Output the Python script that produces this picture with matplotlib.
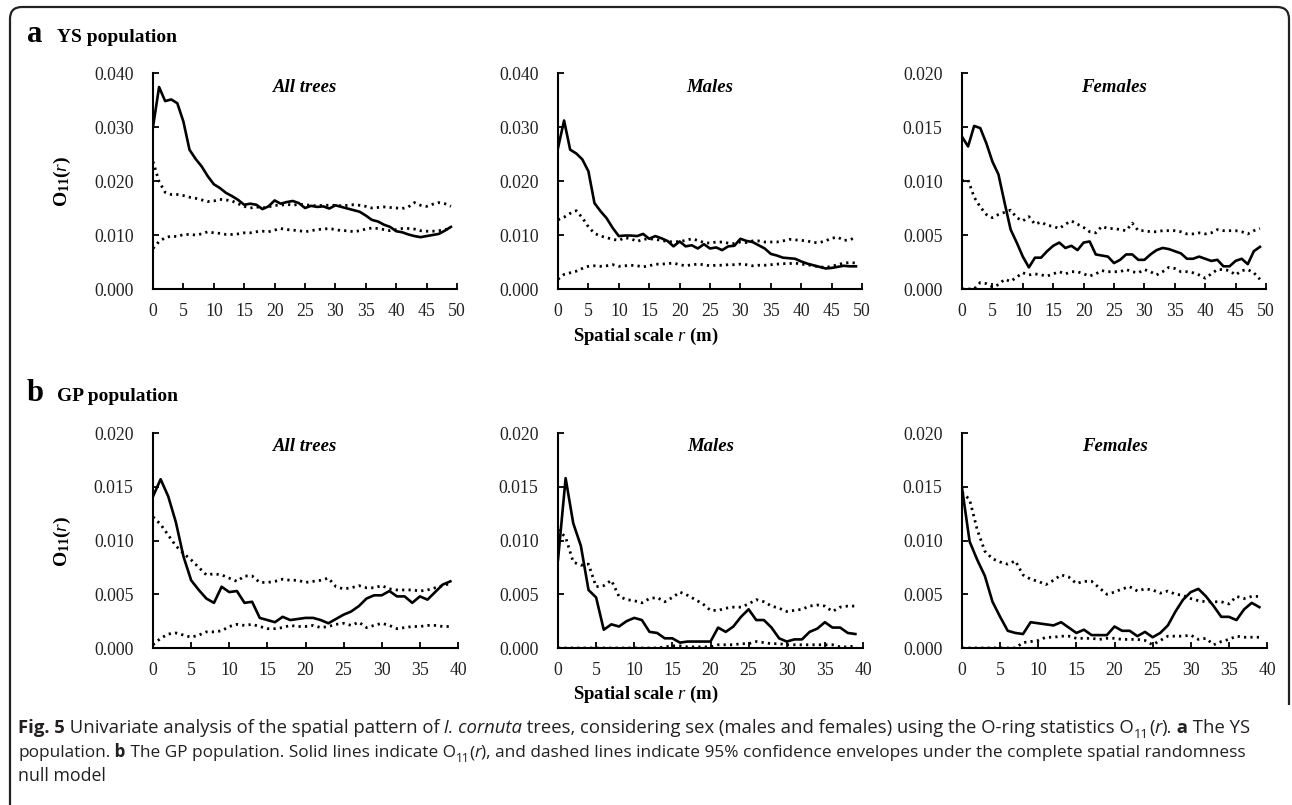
import numpy as np
import matplotlib
matplotlib.use("Agg")
import matplotlib.pyplot as plt
from matplotlib.path import Path
from matplotlib.patches import PathPatch
from matplotlib.ticker import MultipleLocator, FormatStrFormatter

plt.rcParams['font.family'] = ['Liberation Serif', 'DejaVu Serif']
plt.rcParams['mathtext.fontset'] = 'custom'
plt.rcParams['mathtext.rm'] = 'Liberation Serif'
plt.rcParams['mathtext.it'] = 'Liberation Serif:italic'
plt.rcParams['mathtext.bf'] = 'Liberation Serif:bold'

W, H = 1292, 805

# ---- data: YS population (r = 0..49) ----
ys_r = list(range(50))
ys_all_obs = [0.0300, 0.0374, 0.0348, 0.0351, 0.0344, 0.0310, 0.0258, 0.0241, 0.0227, 0.0209,
              0.0194, 0.0187, 0.0178, 0.0172, 0.0165, 0.0156, 0.0158, 0.0156, 0.0148, 0.0153,
              0.0164, 0.0158, 0.0161, 0.0163, 0.0159, 0.0150, 0.0154, 0.0152, 0.0153, 0.0149,
              0.0155, 0.0152, 0.0149, 0.0146, 0.0143, 0.0136, 0.0128, 0.0125, 0.0119, 0.0115,
              0.0107, 0.0105, 0.0101, 0.0098, 0.0096, 0.0098, 0.0100, 0.0102, 0.0108, 0.0115]
ys_all_hi = [0.0236, 0.0199, 0.0179, 0.0175, 0.0175, 0.0173, 0.0170, 0.0168, 0.0165, 0.0162,
             0.0163, 0.0166, 0.0165, 0.0163, 0.0158, 0.0153, 0.0150, 0.0152, 0.0150, 0.0152,
             0.0155, 0.0155, 0.0157, 0.0155, 0.0157, 0.0156, 0.0155, 0.0154, 0.0155, 0.0155,
             0.0155, 0.0154, 0.0155, 0.0156, 0.0155, 0.0153, 0.0150, 0.0151, 0.0152, 0.0151,
             0.0150, 0.0149, 0.0152, 0.0160, 0.0155, 0.0153, 0.0157, 0.0160, 0.0158, 0.0153]
ys_all_lo = [0.0075, 0.0088, 0.0095, 0.0098, 0.0097, 0.0101, 0.0101, 0.0100, 0.0102, 0.0106,
             0.0104, 0.0103, 0.0101, 0.0101, 0.0102, 0.0104, 0.0104, 0.0106, 0.0107, 0.0106,
             0.0109, 0.0112, 0.0110, 0.0109, 0.0108, 0.0106, 0.0108, 0.0110, 0.0111, 0.0112,
             0.0110, 0.0108, 0.0108, 0.0106, 0.0108, 0.0111, 0.0113, 0.0112, 0.0110, 0.0108,
             0.0110, 0.0112, 0.0112, 0.0111, 0.0108, 0.0107, 0.0107, 0.0108, 0.0110, 0.0112]

ys_male_obs = [0.0261, 0.0312, 0.0258, 0.0251, 0.0240, 0.0218, 0.0159, 0.0144, 0.0131, 0.0113,
               0.0098, 0.0099, 0.0099, 0.0098, 0.0102, 0.0093, 0.0098, 0.0094, 0.0089, 0.0079,
               0.0088, 0.0079, 0.0081, 0.0075, 0.0083, 0.0075, 0.0077, 0.0072, 0.0079, 0.0080,
               0.0093, 0.0089, 0.0087, 0.0081, 0.0075, 0.0065, 0.0062, 0.0058, 0.0057, 0.0056,
               0.0051, 0.0047, 0.0044, 0.0041, 0.0038, 0.0039, 0.0041, 0.0043, 0.0042, 0.0042]
ys_male_hi = [0.0128, 0.0133, 0.0140, 0.0145, 0.0132, 0.0115, 0.0103, 0.0098, 0.0095, 0.0092,
              0.0090, 0.0095, 0.0093, 0.0088, 0.0092, 0.0093, 0.0092, 0.0090, 0.0088, 0.0087,
              0.0088, 0.0090, 0.0093, 0.0090, 0.0086, 0.0085, 0.0087, 0.0087, 0.0085, 0.0084,
              0.0087, 0.0086, 0.0089, 0.0089, 0.0087, 0.0087, 0.0087, 0.0089, 0.0092, 0.0091,
              0.0090, 0.0089, 0.0086, 0.0086, 0.0089, 0.0094, 0.0096, 0.0090, 0.0091, 0.0096]
ys_male_lo = [0.0018, 0.0027, 0.0030, 0.0033, 0.0038, 0.0042, 0.0043, 0.0042, 0.0043, 0.0045,
              0.0042, 0.0043, 0.0044, 0.0043, 0.0041, 0.0043, 0.0046, 0.0046, 0.0047, 0.0048,
              0.0045, 0.0043, 0.0045, 0.0046, 0.0045, 0.0043, 0.0044, 0.0044, 0.0045, 0.0045,
              0.0046, 0.0045, 0.0043, 0.0044, 0.0044, 0.0045, 0.0046, 0.0047, 0.0047, 0.0048,
              0.0046, 0.0045, 0.0043, 0.0041, 0.0040, 0.0042, 0.0045, 0.0048, 0.0049, 0.0048]

ys_fem_obs = [0.0141, 0.0132, 0.0151, 0.0149, 0.0135, 0.0118, 0.0106, 0.0080, 0.0055, 0.0043,
              0.0030, 0.0020, 0.0029, 0.0029, 0.0035, 0.0040, 0.0043, 0.0038, 0.0040, 0.0036,
              0.0043, 0.0044, 0.0032, 0.0031, 0.0030, 0.0024, 0.0027, 0.0032, 0.0032, 0.0027,
              0.0027, 0.0032, 0.0036, 0.0038, 0.0037, 0.0035, 0.0033, 0.0028, 0.0028, 0.0030,
              0.0028, 0.0026, 0.0027, 0.0021, 0.0021, 0.0026, 0.0028, 0.0023, 0.0035, 0.0039]
ys_fem_hi = [0.0100, 0.0101, 0.0085, 0.0076, 0.0069, 0.0066, 0.0069, 0.0071, 0.0073, 0.0066,
             0.0063, 0.0067, 0.0060, 0.0062, 0.0059, 0.0058, 0.0056, 0.0060, 0.0063, 0.0060,
             0.0057, 0.0053, 0.0052, 0.0058, 0.0056, 0.0056, 0.0055, 0.0054, 0.0061, 0.0054,
             0.0054, 0.0053, 0.0053, 0.0054, 0.0054, 0.0054, 0.0053, 0.0051, 0.0051, 0.0052,
             0.0051, 0.0052, 0.0055, 0.0054, 0.0054, 0.0054, 0.0053, 0.0051, 0.0054, 0.0056]
ys_fem_lo = [0.0000, 0.0000, 0.0000, 0.0006, 0.0005, 0.0002, 0.0004, 0.0009, 0.0007, 0.0011,
             0.0015, 0.0013, 0.0014, 0.0013, 0.0012, 0.0014, 0.0016, 0.0014, 0.0016, 0.0016,
             0.0014, 0.0012, 0.0014, 0.0017, 0.0016, 0.0016, 0.0016, 0.0018, 0.0016, 0.0015,
             0.0018, 0.0016, 0.0013, 0.0016, 0.0020, 0.0019, 0.0016, 0.0016, 0.0015, 0.0013,
             0.0010, 0.0014, 0.0018, 0.0018, 0.0017, 0.0013, 0.0017, 0.0018, 0.0015, 0.0009]

# ---- data: GP population (r = 0..39) ----
gp_r = list(range(40))
gp_all_obs = [0.0141, 0.0157, 0.0141, 0.0117, 0.0085, 0.0063, 0.0054, 0.0046, 0.0042, 0.0057,
              0.0052, 0.0053, 0.0042, 0.0043, 0.0028, 0.0026, 0.0024, 0.0029, 0.0026, 0.0027,
              0.0028, 0.0028, 0.0026, 0.0023, 0.0027, 0.0031, 0.0034, 0.0039, 0.0046, 0.0049,
              0.0049, 0.0053, 0.0048, 0.0048, 0.0042, 0.0048, 0.0045, 0.0052, 0.0059, 0.0062]
gp_all_hi = [0.0122, 0.0115, 0.0105, 0.0095, 0.0088, 0.0082, 0.0075, 0.0068, 0.0069, 0.0068,
             0.0065, 0.0062, 0.0067, 0.0067, 0.0061, 0.0061, 0.0062, 0.0064, 0.0063, 0.0063,
             0.0061, 0.0062, 0.0063, 0.0065, 0.0057, 0.0055, 0.0056, 0.0058, 0.0056, 0.0056,
             0.0058, 0.0055, 0.0054, 0.0054, 0.0054, 0.0053, 0.0054, 0.0056, 0.0058, 0.0060]
gp_all_lo = [0.0003, 0.0009, 0.0013, 0.0014, 0.0012, 0.0010, 0.0012, 0.0015, 0.0015, 0.0016,
             0.0020, 0.0022, 0.0021, 0.0022, 0.0020, 0.0018, 0.0018, 0.0019, 0.0021, 0.0020,
             0.0020, 0.0021, 0.0019, 0.0020, 0.0022, 0.0023, 0.0021, 0.0024, 0.0019, 0.0021,
             0.0023, 0.0021, 0.0018, 0.0019, 0.0020, 0.0020, 0.0021, 0.0021, 0.0020, 0.0020]

gp_male_obs = [0.0082, 0.0158, 0.0116, 0.0095, 0.0054, 0.0047, 0.0017, 0.0022, 0.0020, 0.0025,
               0.0028, 0.0026, 0.0015, 0.0014, 0.0009, 0.0009, 0.0005, 0.0006, 0.0006, 0.0006,
               0.0006, 0.0019, 0.0015, 0.0020, 0.0029, 0.0036, 0.0026, 0.0026, 0.0019, 0.0009,
               0.0006, 0.0008, 0.0008, 0.0015, 0.0018, 0.0024, 0.0019, 0.0019, 0.0014, 0.0013]
gp_male_hi = [0.0110, 0.0103, 0.0080, 0.0077, 0.0078, 0.0057, 0.0058, 0.0063, 0.0048, 0.0045,
              0.0044, 0.0042, 0.0046, 0.0047, 0.0043, 0.0047, 0.0052, 0.0049, 0.0045, 0.0041,
              0.0035, 0.0035, 0.0037, 0.0038, 0.0038, 0.0041, 0.0045, 0.0043, 0.0039, 0.0037,
              0.0034, 0.0035, 0.0036, 0.0039, 0.0040, 0.0039, 0.0034, 0.0038, 0.0039, 0.0039]
gp_male_lo = [0.0000, 0.0000, 0.0000, 0.0000, 0.0000, 0.0000, 0.0000, 0.0000, 0.0000, 0.0000,
              0.0000, 0.0000, 0.0000, 0.0000, 0.0001, 0.0002, 0.0002, 0.0001, 0.0001, 0.0001,
              0.0001, 0.0003, 0.0003, 0.0003, 0.0004, 0.0004, 0.0006, 0.0005, 0.0004, 0.0004,
              0.0003, 0.0003, 0.0003, 0.0003, 0.0003, 0.0003, 0.0003, 0.0001, 0.0001, 0.0002]

gp_fem_obs = [0.0149, 0.0099, 0.0082, 0.0067, 0.0043, 0.0029, 0.0016, 0.0014, 0.0013, 0.0024,
              0.0023, 0.0022, 0.0021, 0.0024, 0.0019, 0.0014, 0.0017, 0.0012, 0.0012, 0.0012,
              0.0020, 0.0016, 0.0016, 0.0011, 0.0015, 0.0010, 0.0014, 0.0021, 0.0034, 0.0045,
              0.0052, 0.0055, 0.0048, 0.0039, 0.0029, 0.0029, 0.0026, 0.0036, 0.0042, 0.0038]
gp_fem_hi = [0.0145, 0.0138, 0.0110, 0.0090, 0.0083, 0.0080, 0.0078, 0.0081, 0.0068, 0.0064,
             0.0062, 0.0059, 0.0063, 0.0068, 0.0066, 0.0060, 0.0062, 0.0062, 0.0056, 0.0050,
             0.0052, 0.0055, 0.0057, 0.0053, 0.0055, 0.0054, 0.0051, 0.0053, 0.0050, 0.0049,
             0.0046, 0.0044, 0.0043, 0.0043, 0.0043, 0.0041, 0.0048, 0.0046, 0.0048, 0.0048]
gp_fem_lo = [0.0000, 0.0000, 0.0000, 0.0000, 0.0000, 0.0000, 0.0000, 0.0000, 0.0005, 0.0006,
             0.0007, 0.0010, 0.0010, 0.0011, 0.0011, 0.0009, 0.0009, 0.0009, 0.0008, 0.0009,
             0.0009, 0.0008, 0.0008, 0.0008, 0.0007, 0.0003, 0.0007, 0.0011, 0.0011, 0.0011,
             0.0012, 0.0008, 0.0009, 0.0003, 0.0006, 0.0008, 0.0011, 0.0010, 0.0010, 0.0010]

panel_titles = ['All trees', 'Males', 'Females']


def px_axes(x0, y_top, x1, y_bot):
    # convert pixel box (origin top-left) into figure fractions
    return [x0 / W, 1 - y_bot / H, (x1 - x0) / W, (y_bot - y_top) / H]


def draw_panel(ax, r, obs, hi, lo, title, xmax, ymax, ystep):
    ax.plot(r, hi, color='black', lw=2.0, linestyle=(0, (0.8, 1.5)))
    ax.plot(r, lo, color='black', lw=2.0, linestyle=(0, (0.8, 1.5)))
    ax.plot(r, obs, color='black', lw=1.9, solid_joinstyle='round')
    ax.set_xlim(0, xmax)
    ax.set_ylim(0, ymax)
    ax.xaxis.set_major_locator(MultipleLocator(5))
    ax.yaxis.set_major_locator(MultipleLocator(ystep))
    ax.yaxis.set_major_formatter(FormatStrFormatter('%.3f'))
    for s in ['top', 'right']:
        ax.spines[s].set_visible(False)
    for s in ['left', 'bottom']:
        ax.spines[s].set_linewidth(1.5)
    ax.tick_params(axis='x', direction='in', length=4, width=1.3, labelsize=12.8, pad=10)
    ax.tick_params(axis='y', direction='in', length=4, width=1.3, labelsize=12.8, pad=14)
    ax.text(0.5, 0.935, title, transform=ax.transAxes, ha='center', va='center',
            fontsize=13.5, fontweight='bold', fontstyle='italic')
    for lab in ax.get_xticklabels() + ax.get_yticklabels():
        lab.set_color('#222222')


fig = plt.figure(figsize=(W / 100, H / 100), dpi=100)
bg = fig.add_axes([0, 0, 1, 1])
bg.set_xlim(0, W)
bg.set_ylim(H, 0)
bg.axis('off')

# frame around the figure, rounded top corners, open at the bottom right
rad = 12
verts = [(10, H), (10, 7 + rad), (10, 7), (10 + rad, 7), (1289 - rad, 7), (1289, 7),
         (1289, 7 + rad), (1289, 705)]
codes = [Path.MOVETO, Path.LINETO, Path.CURVE3, Path.CURVE3, Path.LINETO, Path.CURVE3,
         Path.CURVE3, Path.LINETO]
bg.add_patch(PathPatch(Path(verts, codes), fill=False, lw=1.6, edgecolor='#222222'))

lefts = [153, 558, 962]
ys_sets = [(ys_all_obs, ys_all_hi, ys_all_lo, 0.04, 0.01),
           (ys_male_obs, ys_male_hi, ys_male_lo, 0.04, 0.01),
           (ys_fem_obs, ys_fem_hi, ys_fem_lo, 0.02, 0.005)]
gp_sets = [(gp_all_obs, gp_all_hi, gp_all_lo),
           (gp_male_obs, gp_male_hi, gp_male_lo),
           (gp_fem_obs, gp_fem_hi, gp_fem_lo)]

for i in range(3):
    ax = fig.add_axes(px_axes(lefts[i], 73, lefts[i] + 304, 289))
    obs, hi, lo, ymax, ystep = ys_sets[i]
    draw_panel(ax, ys_r, obs, hi, lo, panel_titles[i], 50, ymax, ystep)

    ax = fig.add_axes(px_axes(lefts[i], 433, lefts[i] + 305, 648))
    obs, hi, lo = gp_sets[i]
    draw_panel(ax, gp_r, obs, hi, lo, panel_titles[i], 40, 0.02, 0.005)

# row labels
bg.text(27, 35, 'a', fontsize=22, fontweight='bold', ha='left', va='center')
bg.text(57, 37, 'YS population', fontsize=14, fontweight='bold', ha='left', va='center')
bg.text(27, 393, 'b', fontsize=22, fontweight='bold', ha='left', va='center')
bg.text(57, 396, 'GP population', fontsize=14, fontweight='bold', ha='left', va='center')

ylab = r'O$_\mathbf{11}$($\mathit{r}$)'
bg.text(62, 181, ylab, rotation=90, fontsize=14, fontweight='bold', ha='center', va='center')
bg.text(62, 541, ylab, rotation=90, fontsize=14, fontweight='bold', ha='center', va='center')

xlab = r'Spatial scale $\mathit{r}$ (m)'
bg.text(646, 336, xlab, fontsize=13.5, fontweight='bold', ha='center', va='center')
bg.text(646, 694, xlab, fontsize=13.5, fontweight='bold', ha='center', va='center')

# caption, built piece by piece so bold / italic / subscript parts can mix
cap_col = '#231f20'


def caption_line(segments, x, y, size):
    first = None
    prev = None
    for txt, st in segments:
        kw = dict(fontsize=size, family='Open Sans', color=cap_col)
        if st == 'b':
            kw['fontweight'] = 'bold'
        if st == 'i':
            kw['fontstyle'] = 'italic'
        if first is None:
            first = bg.text(x, y, txt, ha='left', va='baseline', **kw)
            prev = first
            continue
        off = (0, 0)
        if st == 'sub':
            kw['fontsize'] = size * 0.7
            off = (0, -3)
        prev = bg.annotate(txt, xy=(1, 0), xycoords=(prev, first), xytext=off,
                           textcoords='offset points', ha='left', va='bottom', **kw)


caption_line([('Fig. 5', 'b'), (' Univariate analysis of the spatial pattern of', 'n'),
              (' I. cornuta', 'i'),
              (' trees, considering sex (males and females) using the O-ring statistics O', 'n'),
              ('11', 'sub'), ('(', 'n'), ('r', 'i'), (').', 'n'), (' a', 'b'), (' The YS', 'n')],
             18, 733, 13.3)
caption_line([('population.', 'n'), (' b', 'b'),
              (' The GP population. Solid lines indicate O', 'n'), ('11', 'sub'), ('(', 'n'),
              ('r', 'i'),
              ('), and dashed lines indicate 95% confidence envelopes under the complete spatial randomness', 'n')],
             18, 757, 12.4)
caption_line([('null model', 'n')], 18, 781, 12.8)

fig.savefig('out.png', dpi=100)
